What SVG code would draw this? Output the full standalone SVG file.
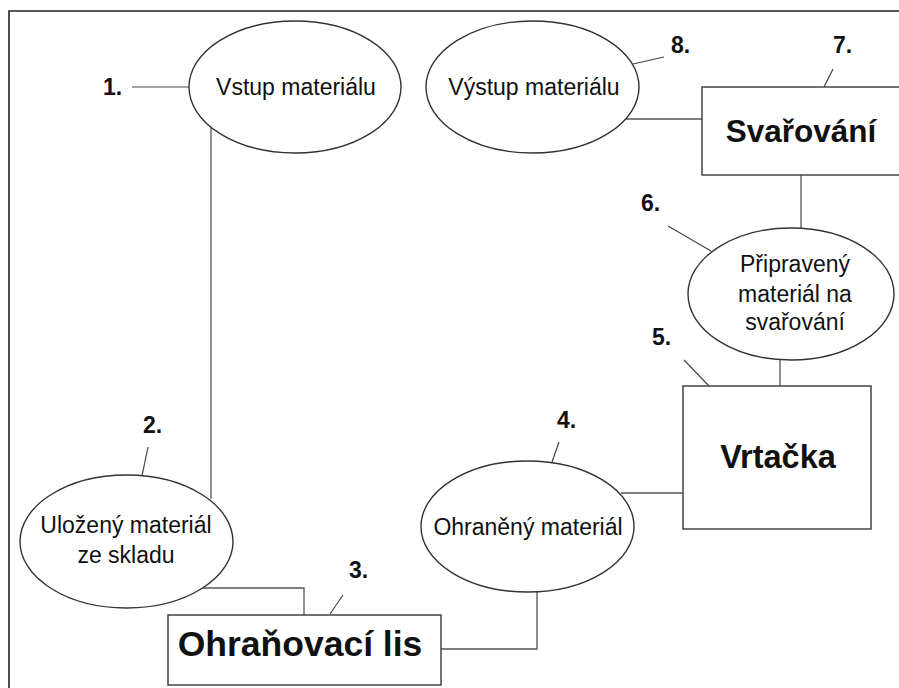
<svg xmlns="http://www.w3.org/2000/svg" width="899" height="688" viewBox="0 0 899 688">
  <style>
    .frame { fill: none; stroke: #222; stroke-width: 1.6; }
    .ell { fill: #fff; stroke: #333; stroke-width: 1.4; }
    .box { fill: #fff; stroke: #444; stroke-width: 1.5; }
    .con { fill: none; stroke: #555; stroke-width: 1.3; }
    .lead { fill: none; stroke: #444; stroke-width: 1.2; }
    .t { font-family: "Liberation Sans", Arial, sans-serif; fill: #111; text-anchor: middle; }
    .sm { font-size: 23px; }
    .num { font-family: "Liberation Sans", Arial, sans-serif; font-weight: bold; font-size: 23px; fill: #111; }
    .big { font-weight: bold; }
  </style>

  <rect width="899" height="688" fill="#fff"/>
  <path class="frame" d="M9,690 V11 H900"/>

  <g id="connectors">
    <line class="con" x1="211" y1="126" x2="211" y2="499"/>
    <path class="con" d="M201,588 H304 V615"/>
    <path class="con" d="M441,649 H537 V592"/>
    <line class="con" x1="621" y1="493" x2="683" y2="493"/>
    <line class="con" x1="780" y1="360" x2="780" y2="386"/>
    <line class="con" x1="801" y1="175" x2="801" y2="228"/>
    <line class="con" x1="626" y1="119" x2="702" y2="119"/>
  </g>

  <g id="leaders">
    <line class="lead" x1="132" y1="87" x2="189" y2="87"/>
    <line class="lead" x1="148" y1="447" x2="142" y2="476"/>
    <line class="lead" x1="343" y1="595" x2="330" y2="614"/>
    <line class="lead" x1="559" y1="442" x2="552" y2="462"/>
    <line class="lead" x1="684" y1="360" x2="709" y2="386"/>
    <line class="lead" x1="668" y1="226" x2="711" y2="251"/>
    <line class="lead" x1="833" y1="69" x2="824" y2="87"/>
    <line class="lead" x1="664" y1="57" x2="633" y2="64"/>
  </g>

  <g id="n1">
    <ellipse class="ell" cx="295" cy="87" rx="106" ry="66"/>
    <text class="t sm" x="296" y="95">Vstup materiálu</text>
    <text class="num" x="103" y="95">1.</text>
  </g>

  <g id="n2">
    <ellipse class="ell" cx="126.5" cy="541.5" rx="106.5" ry="66.5"/>
    <text class="t sm" x="126" y="533">Uložený materiál</text>
    <text class="t sm" x="126" y="563">ze skladu</text>
    <text class="num" x="143" y="433">2.</text>
  </g>

  <g id="n3">
    <rect class="box" x="168" y="615" width="273" height="70"/>
    <text class="t big" x="300" y="656" font-size="35.5">Ohraňovací lis</text>
    <text class="num" x="349" y="578">3.</text>
  </g>

  <g id="n4">
    <ellipse class="ell" cx="527.5" cy="526.5" rx="106.5" ry="65.5"/>
    <text class="t sm" x="528" y="535">Ohraněný materiál</text>
    <text class="num" x="557" y="428">4.</text>
  </g>

  <g id="n5">
    <rect class="box" x="683" y="386" width="188" height="143"/>
    <text class="t big" x="778" y="468" font-size="32.5">Vrtačka</text>
    <text class="num" x="652" y="345">5.</text>
  </g>

  <g id="n6">
    <ellipse class="ell" cx="791" cy="294" rx="103" ry="66"/>
    <text class="t sm" x="795" y="272">Připravený</text>
    <text class="t sm" x="795" y="302">materiál na</text>
    <text class="t sm" x="795" y="330">svařování</text>
    <text class="num" x="641" y="211">6.</text>
  </g>

  <g id="n7">
    <rect class="box" x="702" y="87" width="210" height="88"/>
    <text class="t big" x="801" y="142" font-size="31.5">Svařování</text>
    <text class="num" x="833" y="53">7.</text>
  </g>

  <g id="n8">
    <ellipse class="ell" cx="532.5" cy="87" rx="106.5" ry="66"/>
    <text class="t sm" x="534" y="95">Výstup materiálu</text>
    <text class="num" x="671" y="53">8.</text>
  </g>
</svg>
